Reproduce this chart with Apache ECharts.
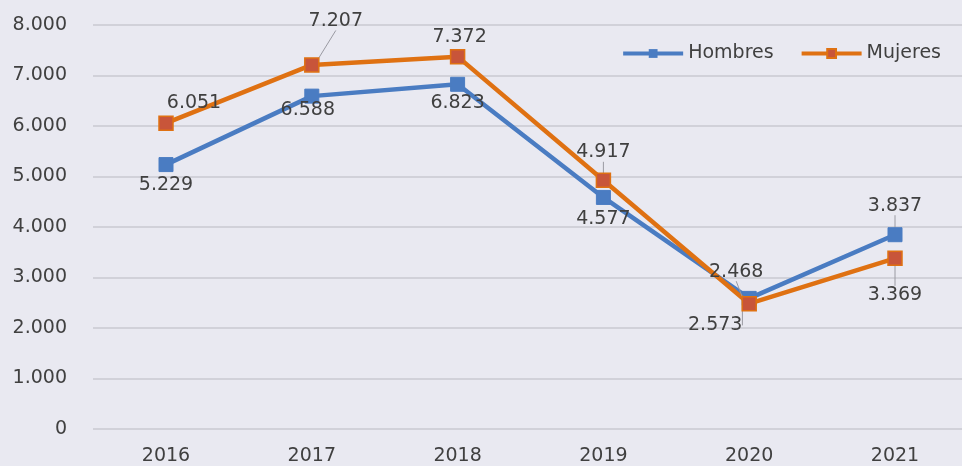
<!DOCTYPE html>
<html><head><meta charset="utf-8">
<script src="https://cdn.jsdelivr.net/npm/echarts@6/dist/echarts.min.js"></script>
<style>html,body{margin:0;padding:0;background:#e9e9f1}#c{width:962px;height:466px}</style>
</head><body><div id="c"></div>
<script>
const years = ['2016','2017','2018','2019','2020','2021'];
const hombres = [5229, 6588, 6823, 4577, 2573, 3837];
const mujeres = [6051, 7207, 7372, 4917, 2468, 3369];
const yTicks = [0,1000,2000,3000,4000,5000,6000,7000,8000];

// label offsets (style only)
const hOff = [[0,20],[-4,14],[0,19],[0,22],[-34,27],[0,-29]];
const mOff = [[28,-20],[24,-44],[2,-20],[0,-28],[-13,-32],[0,37]];
const hLine = [false,false,false,false,true,true];
const mLine = [false,true,false,true,true,true];

const fmt = v => { const s = String(Math.round(v)); return s.length > 3 ? s.slice(0,-3)+'.'+s.slice(-3) : s; };
const font = "'DejaVu Sans', sans-serif";
const txt = '#404040';

function items(vals, ll){
  return vals.map((v,i)=>({value:v, labelLine:{show:ll[i]}}));
}
function layoutFn(off){
  return p => ({dx:off[p.dataIndex][0], dy:off[p.dataIndex][1]});
}

const yMin = yTicks[0], yMax = yTicks[yTicks.length-1];
const chart = echarts.init(document.getElementById('c'));
chart.setOption({
  backgroundColor:'#e9e9f1',
  animation:false,
  grid:[
    {left:93, right:0, top:25, height:404, containLabel:false},
    {left:166, width:729, top:25, height:404, containLabel:false}
  ],
  legend:{
    right:16, top:39, itemWidth:60, itemHeight:11, itemGap:26,
    lineStyle:{width:4},
    textStyle:{fontFamily:font, fontSize:19, color:txt},
    data:['Hombres','Mujeres']
  },
  xAxis:[
    {gridIndex:0, type:'value', show:false, min:0, max:1},
    {gridIndex:1, type:'category', data:years, boundaryGap:false,
     axisLine:{show:false}, axisTick:{show:false}, splitLine:{show:false},
     axisLabel:{fontFamily:font, fontSize:19, color:txt, margin:19}}
  ],
  yAxis:[
    {gridIndex:0, type:'value', min:yMin, max:yMax, interval:1000,
     axisLine:{show:false}, axisTick:{show:false},
     splitLine:{lineStyle:{color:'#c9c9d1', width:1.5}},
     axisLabel:{fontFamily:font, fontSize:19, color:txt, margin:26, formatter:fmt}},
    {gridIndex:1, type:'value', min:yMin, max:yMax, interval:1000, show:false,
     splitLine:{show:false}}
  ],
  series:[
    {
      name:'Hombres', type:'line', xAxisIndex:1, yAxisIndex:1, data:items(hombres,hLine),
      symbol:'rect', symbolSize:14,
      lineStyle:{color:'#4a7cc2', width:4.5},
      itemStyle:{color:'#4a7cc2', borderColor:'#4a7cc2'},
      label:{show:true, position:'inside', fontFamily:font, fontSize:19, color:txt, formatter:p=>fmt(p.value)},
      labelLayout:layoutFn(hOff),
      labelLine:{lineStyle:{color:'#9a9aa2', width:1}},
      z:2
    },
    {
      name:'Mujeres', type:'line', xAxisIndex:1, yAxisIndex:1, data:items(mujeres,mLine),
      symbol:'rect', symbolSize:14,
      lineStyle:{color:'#df7112', width:4.5},
      itemStyle:{color:'#c8553a', borderColor:'#df7112', borderWidth:1.5},
      label:{show:true, position:'inside', fontFamily:font, fontSize:19, color:txt, formatter:p=>fmt(p.value)},
      labelLayout:layoutFn(mOff),
      labelLine:{lineStyle:{color:'#9a9aa2', width:1}},
      z:3
    }
  ]
});
</script></body></html>
